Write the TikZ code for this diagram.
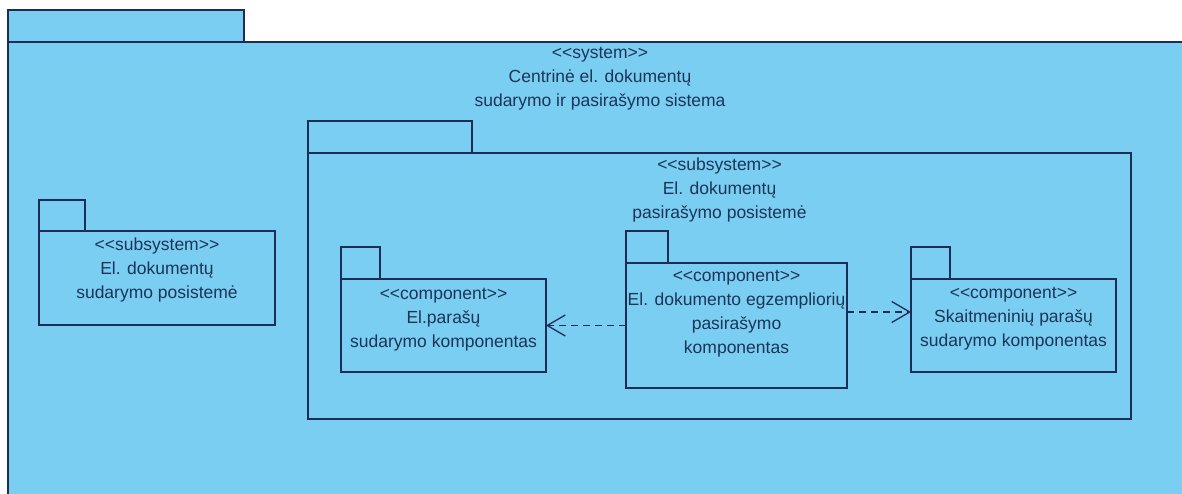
\documentclass[tikz,border=0pt]{standalone}
\usepackage{fontspec}
\setmainfont{Liberation Sans}
\usetikzlibrary{arrows.meta}
\definecolor{pkgfill}{RGB}{122,206,242}
\definecolor{pkgline}{RGB}{30,45,88}
\definecolor{pkgtext}{RGB}{28,52,88}
\newcommand{\st}[1]{{<}{<}#1{>}{>}}
\begin{document}
\begin{tikzpicture}[x=1pt,y=-1pt,
  pkg/.style={draw=pkgline, fill=pkgfill, line width=1.7pt, inner sep=0pt, outer sep=0pt, anchor=north west},
  tabbox/.style={draw=pkgline, fill=pkgfill, line width=1.7pt, inner sep=0pt, outer sep=0pt, anchor=south west, minimum height=32pt},
  lbl/.style={font=\fontsize{17.5}{24}\selectfont, text=pkgtext, align=center, anchor=north, inner sep=0pt},
  dep/.style={draw=pkgline, line width=1.3pt, dash pattern=on 7pt off 5pt, -{Straight Barb[length=18pt,width=21pt,line width=1.3pt]}}]
\useasboundingbox (0,0) rectangle (1182,493);
\clip (0,0) rectangle (1182,493);
\fill[white] (0,0) rectangle (1182,493);

% outer system
\node[pkg, minimum width=1200pt, minimum height=480pt] (sys) at (8,42) {};
\node[tabbox, minimum width=236pt] (systab) at (sys.north west) {};
\node[lbl] (syslbl) at (600,41.5) {\strut\st{system}\\\strut Centrinė el. dokumentų\\\strut sudarymo ir pasirašymo sistema};

% left subsystem
\node[pkg, minimum width=236pt, minimum height=94pt] (ls) at (39,231) {};
\node[tabbox, minimum width=46pt, minimum height=31pt] (lstab) at (ls.north west) {};
\node[lbl] (lslbl) at ([yshift=-2pt]ls.north) {\strut\st{subsystem}\\\strut El. dokumentų\\\strut sudarymo posistemė};

% signing subsystem
\node[pkg, minimum width=823pt, minimum height=266pt] (ss) at (308,153) {};
\node[tabbox, minimum width=164pt] (sstab) at (ss.north west) {};
\node[lbl] (sslbl) at ([yshift=0pt]ss.north) {\strut\st{subsystem}\\\strut El. dokumentų\\\strut pasirašymo posistemė};

% left component
\node[pkg, minimum width=205pt, minimum height=93pt] (lc) at (341,279) {};
\node[tabbox, minimum width=39pt] (lctab) at (lc.north west) {};
\node[lbl] (lclbl) at ([yshift=-3pt]lc.north) {\strut\st{component}\\\strut El.parašų\\\strut sudarymo komponentas};

% middle component
\node[pkg, minimum width=221pt, minimum height=125pt] (mc) at (626,263) {};
\node[tabbox, minimum width=42pt] (mctab) at (mc.north west) {};
\node[lbl] (mclbl) at ([yshift=-1pt]mc.north) {\strut\st{component}\\\strut El. dokumento egzempliorių\\\strut pasirašymo\\\strut komponentas};

% right component
\node[pkg, minimum width=205pt, minimum height=93pt] (rc) at (911,279) {};
\node[tabbox, minimum width=39pt] (rctab) at (rc.north west) {};
\node[lbl] (rclbl) at ([yshift=-2pt]rc.north) {\strut\st{component}\\\strut Skaitmeninių parašų\\\strut sudarymo komponentas};

% dependencies
\draw[dep] (mc.west) -- (lc.east);
\coordinate (ra) at ([yshift=13.5pt]mc.east);
\draw[dep] (ra) -- (ra -| rc.west);
\end{tikzpicture}
\end{document}
